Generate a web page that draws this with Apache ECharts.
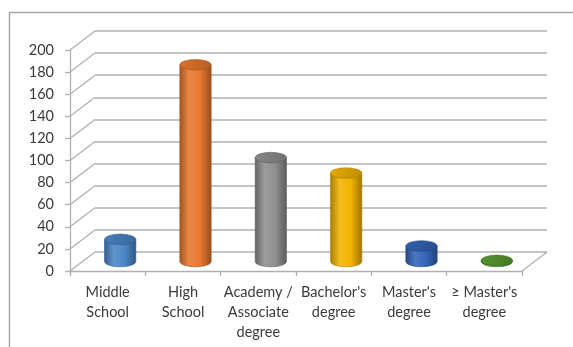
<!DOCTYPE html>
<html>
<head>
<meta charset="utf-8">
<script src="https://cdn.jsdelivr.net/npm/echarts@6/dist/echarts.min.js"></script>
<style>
  html, body { margin: 0; padding: 0; background: #ffffff; }
  #chart { width: 573px; height: 347px; }
</style>
</head>
<body>
<div id="chart"></div>
<script>
// Education level counts
const categories = [
  'Middle\nSchool',
  'High\nSchool',
  'Academy /\nAssociate\ndegree',
  "Bachelor's\ndegree",
  "Master's\ndegree",
  "\u2265 Master's\ndegree"
];
const counts = [20, 178, 94, 80, 14, 1];
const barColors = ['#4A86C6', '#E8782E', '#8E8E8E', '#F2B400', '#3464B8', '#5C9A32'];
const yTicks = [0, 20, 40, 60, 80, 100, 120, 140, 160, 180, 200];

// Depth of the pseudo-3D box (back wall is shifted right and up)
const DEPTH_X = 25;
const DEPTH_Y = 19;
const GRID_W = 452;
const GRID_H = 221;
const FRONT_LEFT = 70, FRONT_TOP = 50;

const LINE_GRAY = '#B0B0B0';
const TEXT_COLOR = '#3A3A3A';
const FONT = 'Lato, "Open Sans", sans-serif';

function shade(hex, amt) {
  const n = parseInt(hex.slice(1), 16);
  let r = (n >> 16) & 255, g = (n >> 8) & 255, b = n & 255;
  const t = amt < 0 ? 0 : 255, p = Math.abs(amt);
  r = Math.round(r + (t - r) * p);
  g = Math.round(g + (t - g) * p);
  b = Math.round(b + (t - b) * p);
  return 'rgb(' + r + ',' + g + ',' + b + ')';
}

// Diagonal edges joining the front axis ticks to the back-wall gridlines
function renderDepthEdges(params, api) {
  const v = api.value(1);
  const p = api.coord([0, v]);
  const cs = params.coordSys;
  const x0 = cs.x;
  const children = [{
    type: 'line',
    shape: { x1: x0, y1: p[1], x2: x0 + DEPTH_X, y2: p[1] - DEPTH_Y },
    style: { stroke: LINE_GRAY, lineWidth: 1.3 }
  }];
  if (v === 0) {
    const x1 = cs.x + cs.width;
    children.push({
      type: 'line',
      shape: { x1: x1, y1: p[1], x2: x1 + DEPTH_X, y2: p[1] - DEPTH_Y },
      style: { stroke: LINE_GRAY, lineWidth: 1.3 }
    });
  }
  return { type: 'group', children: children };
}

// Cylinder column standing in the middle of the box depth
function renderCylinder(params, api) {
  const idx = api.value(0);
  const v = api.value(1);
  const base = api.coord([idx, 0]);
  const top = api.coord([idx, v]);
  const band = api.size([1, 0])[0];
  const cx = base[0] + DEPTH_X / 2;
  const by = base[1] - DEPTH_Y / 2;
  const ty = top[1] - DEPTH_Y / 2;
  const rx = band * 0.208;
  const ry = rx * 0.34;
  const c = barColors[params.dataIndex];

  const body = 'M' + (cx - rx) + ' ' + ty +
    ' L' + (cx - rx) + ' ' + by +
    ' A' + rx + ' ' + ry + ' 0 0 0 ' + (cx + rx) + ' ' + by +
    ' L' + (cx + rx) + ' ' + ty + ' Z';
  const cap = 'M' + (cx - rx) + ' ' + ty +
    ' A' + rx + ' ' + ry + ' 0 1 0 ' + (cx + rx) + ' ' + ty +
    ' A' + rx + ' ' + ry + ' 0 1 0 ' + (cx - rx) + ' ' + ty + ' Z';

  return {
    type: 'group',
    children: [
      {
        type: 'path',
        shape: { pathData: body },
        style: {
          fill: {
            type: 'linear', x: 0, y: 0, x2: 1, y2: 0,
            colorStops: [
              { offset: 0, color: shade(c, -0.3) },
              { offset: 0.3, color: shade(c, 0.12) },
              { offset: 0.65, color: c },
              { offset: 1, color: shade(c, -0.35) }
            ]
          },
          stroke: shade(c, -0.3), lineWidth: 0.6
        }
      },
      {
        type: 'path',
        shape: { pathData: cap },
        style: {
          fill: {
            type: 'linear', x: 0, y: 0, x2: 1, y2: 1,
            colorStops: [
              { offset: 0, color: shade(c, -0.05) },
              { offset: 1, color: shade(c, -0.22) }
            ]
          },
          stroke: shade(c, -0.3), lineWidth: 0.6
        }
      }
    ]
  };
}

const chart = echarts.init(document.getElementById('chart'), null, { renderer: 'canvas' });

chart.setOption({
  animation: false,
  backgroundColor: '#ffffff',
  graphic: [{
    type: 'rect',
    left: 7, top: 10,
    shape: { width: 700, height: 500 },
    style: { fill: 'none', stroke: '#A8A8A8', lineWidth: 1.5 },
    silent: true
  }],
  grid: [
    // back wall
    { left: FRONT_LEFT + DEPTH_X, top: FRONT_TOP - DEPTH_Y, width: GRID_W, height: GRID_H },
    // front plane
    { left: FRONT_LEFT, top: FRONT_TOP, width: GRID_W, height: GRID_H }
  ],
  xAxis: [
    { gridIndex: 0, type: 'category', data: categories, show: false },
    {
      gridIndex: 1, type: 'category', data: categories,
      axisLine: { lineStyle: { color: LINE_GRAY, width: 1.3 } },
      axisTick: { show: true, length: 5, lineStyle: { color: LINE_GRAY, width: 1.3 } },
      axisLabel: {
        interval: 0, margin: 11, color: TEXT_COLOR,
        fontFamily: FONT, fontSize: 14.5, lineHeight: 20
      }
    }
  ],
  yAxis: [
    {
      gridIndex: 0, type: 'value', min: 0, max: 200, interval: 20,
      axisLine: { show: false }, axisTick: { show: false }, axisLabel: { show: false },
      splitLine: { lineStyle: { color: LINE_GRAY, width: 1.5 } }
    },
    {
      gridIndex: 1, type: 'value', min: 0, max: 200, interval: 20,
      axisLine: { show: true, lineStyle: { color: LINE_GRAY, width: 1.3 } },
      axisTick: { show: true, length: 5, lineStyle: { color: LINE_GRAY, width: 1.3 } },
      splitLine: { show: false },
      axisLabel: { margin: 16, color: TEXT_COLOR, fontFamily: FONT, fontSize: 14.5 }
    }
  ],
  series: [
    {
      type: 'custom',
      xAxisIndex: 1, yAxisIndex: 1,
      renderItem: renderDepthEdges,
      data: yTicks.map(v => [0, v]),
      silent: true, z: 1
    },
    {
      type: 'custom',
      xAxisIndex: 1, yAxisIndex: 1,
      renderItem: renderCylinder,
      encode: { x: 0, y: 1 },
      data: counts.map((v, i) => [i, v]),
      z: 3
    }
  ]
});
</script>
</body>
</html>
